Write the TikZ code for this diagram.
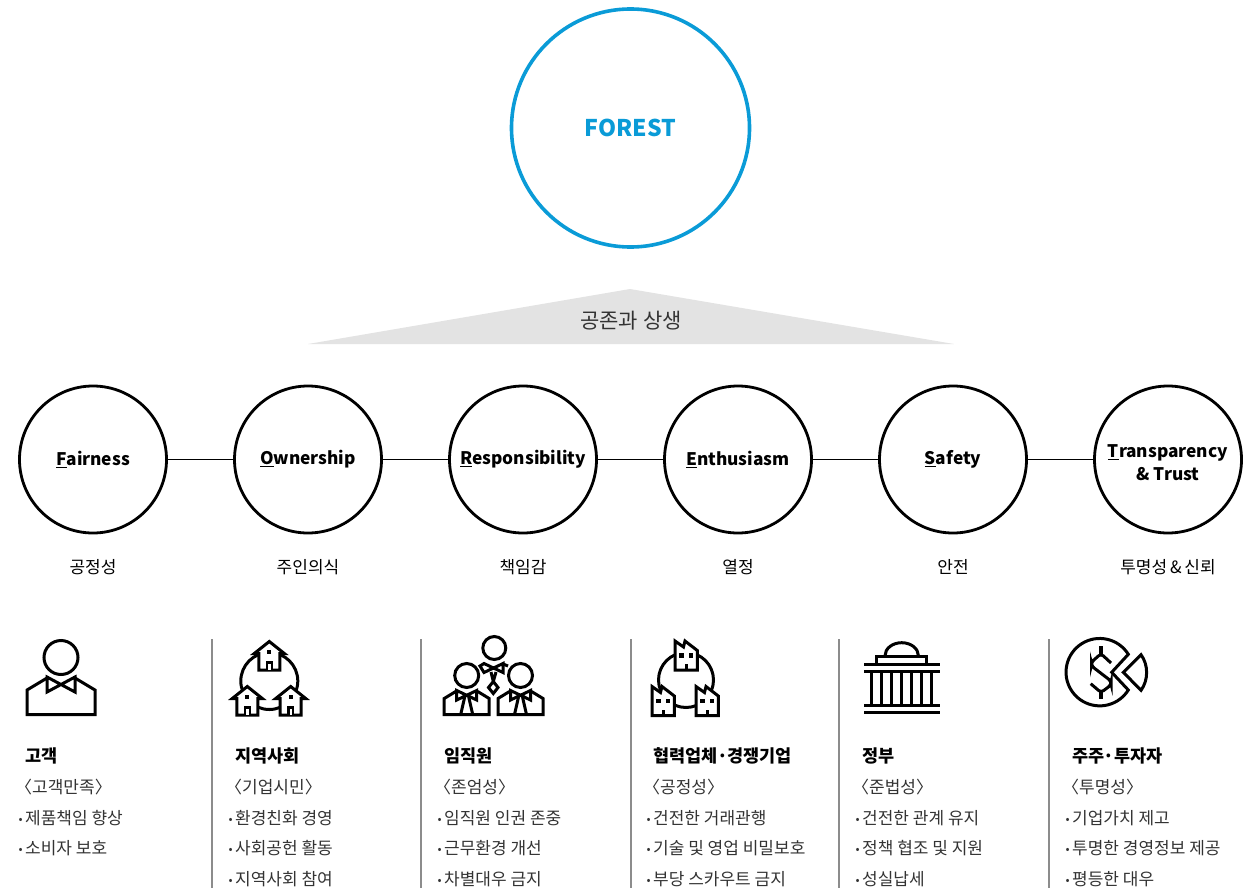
\documentclass[tikz,border=0pt]{standalone}
\usepackage{fontspec}
\setmainfont{Noto Sans CJK KR}
\usetikzlibrary{positioning}

\definecolor{forestblue}{HTML}{0A9BD7}
\definecolor{bodygray}{HTML}{333333}
\newcommand{\fsz}[1]{\fontsize{#1}{#1}\selectfont}
\newcommand{\bul}{\llap{{\fsz{12}\raisebox{0.5pt}{•}}\hspace{2.5pt}}}

\tikzset{
	valuecircle/.style={draw=black, circle, line width=2.8pt, minimum size=147pt, inner sep=0pt, align=center, font=\fontsize{17.3}{23}\selectfont\bfseries, text=black},
	valuename/.style={font=\fsz{17}, text=black},
	headline/.style={anchor=west, inner sep=0pt, font=\fsz{17.5}\bfseries, text=black},
	bodyline/.style={anchor=west, inner sep=0pt, font=\fsz{17}, text=bodygray},
	divider/.style={draw=gray!90, line width=1.5pt},
	icon/.style={line width=3pt, line join=miter}
}

\begin{document}
\begin{tikzpicture}[x=1pt, y=-1pt]
\useasboundingbox (0, 0) rectangle (1260, 888);

\node[draw=forestblue, circle, line width=3.6pt, minimum size=238pt, inner sep=0pt, font=\fsz{23}\bfseries, text=forestblue] (forest) at (630.5, 128) {FOREST};

\fill[gray!22] (308, 344) -- (630, 289) -- (954, 344) -- cycle;
\node[font=\fsz{21}, text=bodygray] (mutual) at (631, 320.5) {공존과 상생};

\foreach \x/\nm/\txt/\kr in {93/fair/{\underline{F}airness}/공정성, 308/own/{\underline{O}wnership}/주인의식, 523/resp/{\underline{R}esponsibility}/책임감, 738/enth/{\underline{E}nthusiasm}/열정, 953/safe/{\underline{S}afety}/안전, 1168/trans/{\rule{0pt}{20pt}\underline{T}ransparency\\\& Trust}/{투명성\,\&\,신뢰}}{
	\node[valuecircle] (\nm) at (\x, 459.5) {\txt};
	\node[valuename] (\nm kr) at (\x, 567) {\kr};
}
\foreach \a/\b in {fair/own, own/resp, resp/enth, enth/safe, safe/trans}{
	\draw[line width=1pt] (\a) -- (\b);
}

\foreach \x in {212, 421, 631, 839, 1049}{
	\draw[divider] (\x, 639) -- (\x, 888);
}

\foreach \x/\nm/\hd/\sub/\a/\b in {25/cust/고객/〈고객만족〉/제품책임 향상/소비자 보호, 235/comm/지역사회/〈기업시민〉/환경친화 경영/사회공헌 활동, 444/staff/임직원/〈존엄성〉/임직원 인권 존중/근무환경 개선, 653/part/{협력업체\hspace{-0.5pt}·\hspace{-0.5pt}경쟁기업}/〈공정성〉/건전한 거래관행/기술 및 영업 비밀보호, 862/gov/정부/〈준법성〉/건전한 관계 유지/정책 협조 및 지원, 1072/inv/{주주\hspace{-0.5pt}·\hspace{-0.5pt}투자자}/〈투명성〉/기업가치 제고/투명한 경영정보 제공}{
	\node[headline] (\nm h) at (\x, 756) {\hd};
	\node[bodyline] (\nm s) at (\x-10, 787) {\sub};
	\node[bodyline] (\nm a) at (\x, 818) {\bul\a};
	\node[bodyline] (\nm b) at (\x, 848) {\bul\b};
}
\foreach \x/\nm/\c in {235/comm/지역사회 참여, 444/staff/차별대우 금지, 653/part/부당 스카우트 금지, 862/gov/성실납세, 1072/inv/평등한 대우}{
	\node[bodyline] (\nm c) at (\x, 879) {\bul\c};
}

% customer
\draw[icon] (61, 657.5) circle (17);
\draw[icon] (47, 678) -- (27, 690) -- (27, 714.5) -- (95, 714.5) -- (95, 690) -- (75, 678);
\draw[icon] (47, 677) -- (47, 692) -- (75, 677) -- (75, 692) -- cycle;

% community
\draw[icon] (269.3, 681) circle (28.5);
\foreach \hx/\hy in {269.3/670, 247.3/715, 290.7/715}{
	\begin{scope}[shift={(\hx, \hy)}]
	\filldraw[icon, fill=white] (-10.5, 0) -- (-10.5, -16.5) -- (-15, -16.5) -- (0, -28.5) -- (15, -16.5) -- (10.5, -16.5) -- (10.5, 0) -- cycle;
	\fill (-2, -20) rectangle (2, -16);
	\fill (-3.5, -9) rectangle (3.5, 0);
	\fill[white] (-1.2, -6.5) rectangle (1.2, 0);
	\end{scope}
}

% employees
\draw[icon] (494.3, 648) circle (11.5);
\draw[icon] (480, 666) -- (484, 663.5) -- (503, 672.5) -- (503, 663.5) -- (484, 672.5) -- cycle;
\draw[icon] (503, 664) -- (508, 666);
\draw[icon] (491, 672) -- (493.3, 681.5) -- (488.5, 687.5) -- (493.3, 693.5) -- (498, 687.5) -- (493.3, 681.5) -- (496, 672);
\foreach \px in {466.7, 520.5}{
	\begin{scope}[shift={(\px, 0)}]
	\draw[icon] (0, 675.5) circle (12);
	\draw[icon] (-11, 691.5) -- (-22.5, 698.5) -- (-22.5, 714.5) -- (22.5, 714.5) -- (22.5, 698.5) -- (11, 691.5);
	\draw[icon] (-10, 690.5) -- (-10, 700) -- (10, 690.5) -- (10, 700) -- cycle;
	\draw[icon] (-2, 697) -- (-6, 714.5);
	\draw[icon] (2, 697) -- (6, 714.5);
	\end{scope}
}

% partners
\draw[icon] (686, 680) circle (27.5);
\foreach \hx/\hy in {675/670, 652/715.5, 696/715.5}{
	\begin{scope}[shift={(\hx, \hy)}]
	\filldraw[icon, fill=white] (0, 0) -- (0, -29) -- (8.5, -23) -- (10, -29) -- (22.3, -19.5) -- (22.3, 0) -- cycle;
	\fill (4, -17) rectangle (8.5, -12.5);
	\fill (13.5, -17) rectangle (18, -12.5);
	\fill (9.5, -6) rectangle (13, 0);
	\end{scope}
}

% government
\draw[icon] (885, 655.7) arc[start angle=180, end angle=360, x radius=16.7, y radius=13];
\draw[icon] (876.7, 664) -- (876.7, 656) -- (926, 656) -- (926, 664);
\foreach \y in {664.5, 671.5, 705.5, 712.5}{
	\draw[line width=3.4pt] (864, \y) -- (939.5, \y);
}
\foreach \x in {871.7, 881.7, 891.7, 901.7, 911.7, 921.7, 931.7}{
	\draw[icon] (\x, 671) -- (\x, 705);
}

% investors
\draw[icon] (1128.3, 654.3) arc[start angle=-32, end angle=-328, radius=33.7] -- (1111.7, 672.3) -- cycle;
\draw[icon] (1123.3, 672.3) -- (1141, 654.7) .. controls (1148.5, 665) and (1148.5, 680) .. (1141, 690.3) -- cycle;
\draw[icon, rounded corners=3pt] (1111, 663) -- (1101, 653.7) -- (1091.5, 662) -- (1091.5, 666) -- (1111, 681) -- (1111, 685) -- (1101, 692.5) -- (1090.7, 683.7);
\draw[line width=3.6pt] (1101, 646) -- (1101, 655);
\draw[line width=3.6pt] (1101, 691) -- (1101, 699);

\end{tikzpicture}
\end{document}
